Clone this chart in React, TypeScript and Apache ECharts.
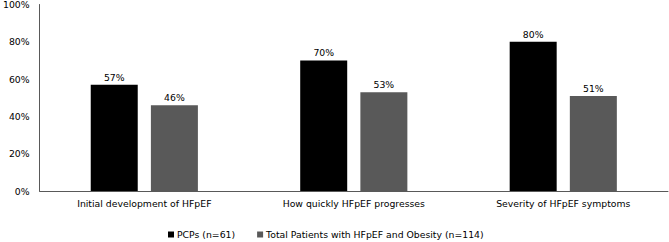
import React, { useEffect, useRef } from "react";
import * as echarts from "echarts";

const categories = [
  "Initial development of HFpEF",
  "How quickly HFpEF progresses",
  "Severity of HFpEF symptoms",
];
const pcpValues = [57, 70, 80];
const patientValues = [46, 53, 51];
const seriesNames = ["PCPs (n=61)", "Total Patients with HFpEF and Obesity (n=114)"];

const FONT = "DejaVu Sans, Verdana, sans-serif";
const FS = 9.3;

export default function App() {
  const ref = useRef<HTMLDivElement>(null);
  useEffect(() => {
    if (!ref.current) return;
    const chart = echarts.init(ref.current, null, { renderer: "svg" });
    const label = {
      show: true,
      position: "top" as const,
      distance: 3,
      formatter: "{c}%",
      color: "#000",
      fontFamily: FONT,
      fontSize: FS,
    };
    chart.setOption({
      animation: false,
      backgroundColor: "#fff",
      textStyle: { fontFamily: FONT },
      grid: { left: 36, right: 1, top: 4, bottom: 51, containLabel: false },
      legend: {
        left: 168,
        top: 230,
        padding: 0,
        icon: "rect",
        itemWidth: 6,
        itemHeight: 6,
        itemGap: 22,
        textStyle: { color: "#000", fontFamily: FONT, fontSize: FS, padding: [0, 0, 0, -2] },
        data: seriesNames,
      },
      xAxis: {
        type: "category",
        data: categories,
        axisLine: { show: true, lineStyle: { color: "#595959", width: 1 } },
        axisTick: { show: false },
        axisLabel: { color: "#000", fontFamily: FONT, fontSize: FS, margin: 8, interval: 0 },
      },
      yAxis: {
        type: "value",
        min: 0,
        max: 100,
        interval: 20,
        axisLine: { show: true, lineStyle: { color: "#595959", width: 1 } },
        axisTick: { show: false },
        splitLine: { show: false },
        axisLabel: { color: "#000", fontFamily: FONT, fontSize: FS, margin: 10, formatter: "{value}%" },
      },
      series: [
        {
          name: seriesNames[0],
          type: "bar",
          data: pcpValues,
          barWidth: 47,
          barGap: "28%",
          itemStyle: { color: "#000000" },
          label,
        },
        {
          name: seriesNames[1],
          type: "bar",
          data: patientValues,
          barWidth: 47,
          barGap: "28%",
          itemStyle: { color: "#595959" },
          label,
        },
      ],
    });
    return () => chart.dispose();
  }, []);
  return <div ref={ref} style={{ width: 669, height: 242, position: "absolute", left: 0, top: 0 }} />;
}
